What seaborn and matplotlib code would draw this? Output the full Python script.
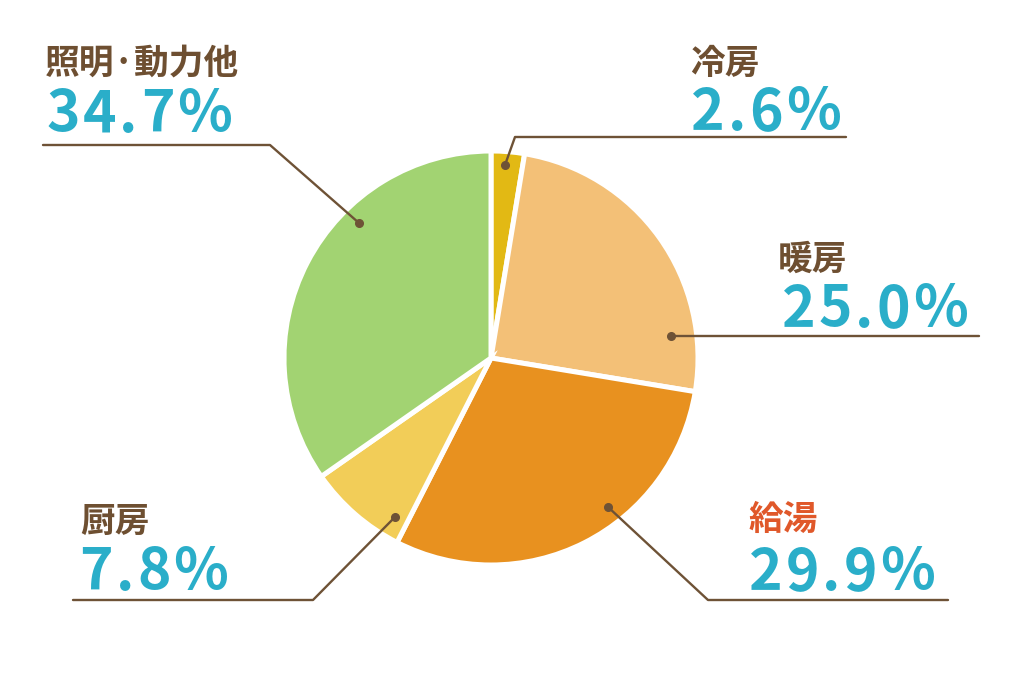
import matplotlib
matplotlib.use("Agg")
import matplotlib.pyplot as plt
import seaborn as sns

# ---- data ----
categories = ["冷房", "暖房", "給湯", "厨房", "照明·動力他"]
shares = [2.6, 25.0, 29.9, 7.8, 34.7]
pct_labels = ["2.6%", "25.0%", "29.9%", "7.8%", "34.7%"]

# ---- style ----
slice_colors = ["#E2B914", "#F3C077", "#E8911F", "#F2CD58", "#A2D372"]
label_colors = ["#6E4F31", "#6E4F31", "#E0582A", "#6E4F31", "#6E4F31"]
PCT_COLOR = "#2AAEC9"
LINE_COLOR = "#6E5236"

W, H = 1024, 682
def Y(y):
    return H - y

# layout (image pixel coords): dot, elbow, line end x, label (x, baseline), pct (x, baseline)
layout = [
    dict(dot=(505, 165), elbow=(515, 137), end=846, lab=(690, 74), pct=(691, 130)),
    dict(dot=(671, 336), elbow=(671, 336), end=979, lab=(778, 270), pct=(782, 327)),
    dict(dot=(608, 507), elbow=(708, 600), end=948, lab=(748, 530), pct=(749, 590)),
    dict(dot=(395, 517), elbow=(313, 600), end=73, lab=(80, 532), pct=(79, 590)),
    dict(dot=(359, 223), elbow=(270, 145), end=43, lab=(45, 74), pct=(46, 132)),
]

sns.set_theme(style="white")
plt.rcParams["font.family"] = ["Noto Sans CJK JP", "DejaVu Sans"]

fig = plt.figure(figsize=(W / 100, H / 100), dpi=100)
fig.patch.set_facecolor("white")
ax = fig.add_axes([0, 0, 1, 1])

ax.pie(shares, colors=slice_colors, startangle=90, counterclock=False,
       center=(491, Y(358)), radius=207,
       wedgeprops=dict(edgecolor="white", linewidth=3.6))
ax.set_xlim(0, W)
ax.set_ylim(0, H)
ax.set_aspect("equal", adjustable="box")
ax.axis("off")

fig.canvas.draw()
renderer = fig.canvas.get_renderer()

def spaced_text(x, y, s, tracking, **kw):
    for ch in s:
        t = ax.text(x, y, ch, ha="left", va="baseline", **kw)
        bb = t.get_window_extent(renderer=renderer)
        x += bb.width + tracking

for cat, pct, lc, lay in zip(categories, pct_labels, label_colors, layout):
    dx, dy = lay["dot"]
    ex, ey = lay["elbow"]
    ax.plot([dx, ex, lay["end"]], [Y(dy), Y(ey), Y(ey)], color=LINE_COLOR,
            lw=1.7, solid_capstyle="round", solid_joinstyle="round")
    ax.plot([dx], [Y(dy)], "o", color=LINE_COLOR, ms=5.5)
    lx, ly = lay["lab"]
    ax.text(lx, Y(ly), cat, ha="left", va="baseline", fontsize=25,
            color=lc, fontweight="bold")
    px, py = lay["pct"]
    spaced_text(px, Y(py), pct, 3, fontsize=41, color=PCT_COLOR,
                fontweight="bold")

fig.savefig("out.png", dpi=100, facecolor="white")
